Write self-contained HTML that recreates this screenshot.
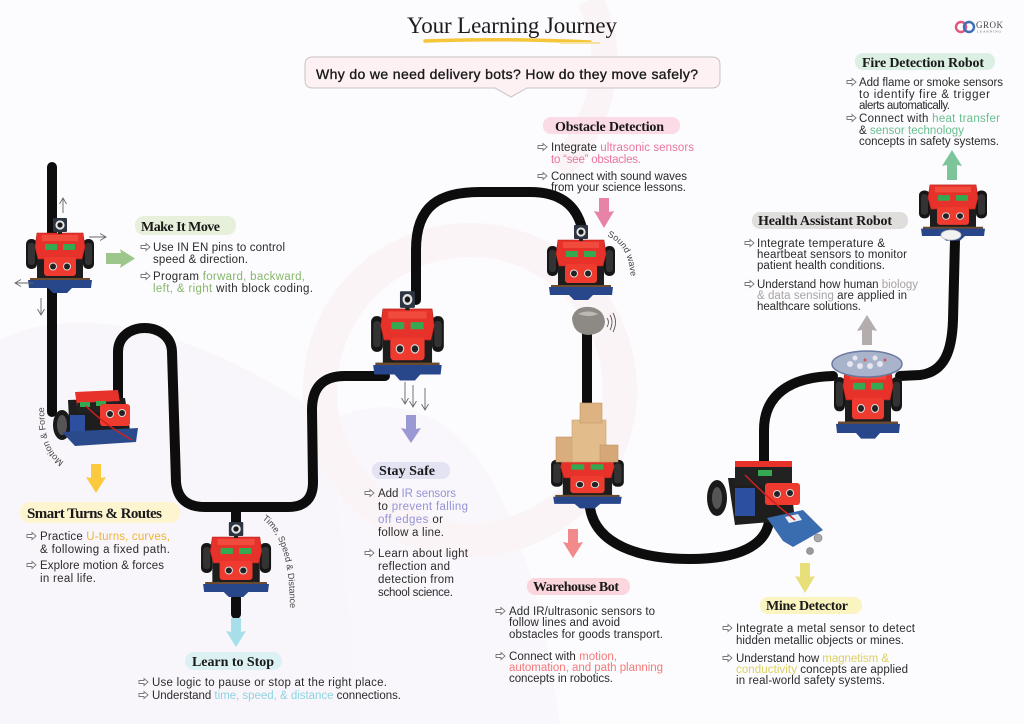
<!DOCTYPE html>
<html><head><meta charset="utf-8">
<style>
html,body{margin:0;padding:0;background:#fcfbfd;}
svg{display:block;}
.b{font-family:"Liberation Sans",sans-serif;font-size:11.5px;fill:#2b2b2b;}
.h{font-family:"Liberation Serif",serif;font-weight:bold;font-size:14px;fill:#1a1a1a;}
.c{font-family:"Liberation Sans",sans-serif;font-size:9px;fill:#444;}
</style></head>
<body>
<svg width="1024" height="724" viewBox="0 0 1024 724" xmlns="http://www.w3.org/2000/svg">
<defs>
 <marker id="ah" markerWidth="8" markerHeight="8" refX="6" refY="4" orient="auto" markerUnits="userSpaceOnUse">
  <path d="M0,0.5 L6,4 L0,7.5" fill="none" stroke="#666" stroke-width="0.9"/>
 </marker>
 <g id="ba"><path d="M0,-1.5 H5 V-3.5 L9,0 L5,3.5 V1.5 H0 Z" fill="#fff" stroke="#777" stroke-width="0.9"/></g>
 <g id="cam">
  <rect x="33" y="13" width="4" height="4" fill="#222"/>
  <rect x="28" y="1" width="14" height="14" rx="1" fill="#2d3542"/>
  <circle cx="35" cy="8" r="4.6" fill="#e6e6e6"/><circle cx="35" cy="8" r="2.6" fill="#1a1a1a"/>
 </g>
 <g id="bb">
  <rect x="1" y="22" width="11" height="30" rx="5" fill="#161616"/>
  <rect x="3" y="26" width="7" height="22" rx="3" fill="#333"/>
  <rect x="58" y="22" width="11" height="30" rx="5" fill="#161616"/>
  <rect x="60" y="26" width="7" height="22" rx="3" fill="#333"/>
  <rect x="12" y="36" width="46" height="28" fill="#1d1d1d"/>
  <path d="M12,16 H58 L60,30 L57,42 H13 L10,30 Z" fill="#e6322a" stroke="#b0201a" stroke-width="0.6"/>
  <rect x="17" y="18" width="36" height="6" fill="#f04b3c"/>
  <rect x="20" y="27" width="12" height="6" fill="#35a852"/>
  <rect x="38" y="27" width="12" height="6" fill="#35a852"/>
  <rect x="19" y="40" width="32" height="19" rx="3" fill="#ee3a2f"/>
  <circle cx="28" cy="49.5" r="4" fill="#ddd"/><circle cx="28" cy="49.5" r="3" fill="#222"/>
  <circle cx="42" cy="49.5" r="4" fill="#ddd"/><circle cx="42" cy="49.5" r="3" fill="#222"/>
  <rect x="5" y="61" width="60" height="3" fill="#6b4a2e"/>
  <path d="M3,63 H67 L66,71 H47 L42,76 H28 L23,71 H4 Z" fill="#27478a"/>
 </g>
</defs>

<!-- faint background -->
<rect width="1024" height="724" fill="#fcfbfd"/>
<path d="M0,340 C80,300 200,330 330,420 L360,724 L0,724 Z" fill="#f8f6fa"/>
<path d="M330,420 C420,380 520,420 560,724 L360,724 Z" fill="#f9f7fb"/>
<circle cx="470" cy="390" r="150" fill="none" stroke="#faf4f7" stroke-width="34"/>
<path d="M590,0 C620,60 600,120 560,170" fill="none" stroke="#fbf4f6" stroke-width="26"/>

<!-- title -->
<text x="407" y="33" font-family="Liberation Serif,serif" font-size="23" fill="#1a1a1a" textLength="210" lengthAdjust="spacing">Your Learning Journey</text>
<path d="M425,41 Q500,38 590,42" fill="none" stroke="#f5c63a" stroke-width="3.5" stroke-linecap="round"/>
<path d="M560,43 L600,43" stroke="#f7e3a0" stroke-width="2"/>

<!-- logo -->
<circle cx="961" cy="27" r="5" fill="none" stroke="#e0587f" stroke-width="2.4"/>
<circle cx="969" cy="27" r="5" fill="none" stroke="#3d6fb5" stroke-width="2.4"/>
<text x="976" y="28" font-family="Liberation Serif,serif" font-size="9" fill="#444" textLength="27" lengthAdjust="spacing">GROK</text>
<text x="977" y="32.5" font-family="Liberation Serif,serif" font-size="3.5" fill="#666" textLength="24" lengthAdjust="spacing">LEARNING</text>

<!-- question bubble -->
<path d="M313,57 H712 Q720,57 720,65 V80 Q720,88 712,88 H527 L511,97 L495,88 H313 Q305,88 305,80 V65 Q305,57 313,57 Z" fill="#fdf1f3" stroke="#c9c3c6" stroke-width="1"/>
<text x="316" y="79" font-family="Liberation Sans,sans-serif" font-size="14" fill="#1a1a1a" stroke="#1a1a1a" stroke-width="0.35" textLength="382" lengthAdjust="spacing">Why do we need delivery bots? How do they move safely?</text>

<!-- track -->
<g fill="none" stroke="#0d0d0d" stroke-width="10" stroke-linecap="round" stroke-linejoin="round">
 <path d="M52,167 L52,412"/>
 <path d="M118,402 L118,352 C118,320 171,320 172,352 L176,482 Q178,507 205,507 L288,507 Q313,507 313,482 L312,410 Q312,376 345,376 L385,376"/>
 <path d="M236,507 L236,524"/>
 <path d="M236,598 L236,614"/>
 <path d="M416,300 L416,250 C416,205 440,192 480,192 L530,192 C560,192 576,205 582,228"/>
 <path d="M587,330 L587,408"/>
 <path d="M590,508 C596,545 640,559 690,559 C740,559 765,545 769,522"/>
 <path d="M764,462 L764,430 C764,395 790,377 833,376"/>
 <path d="M900,376 L920,375 C945,372 952,350 953,320 L955,240"/>
</g>

<!-- R1 -->
<g transform="translate(25,217)"><use href="#bb"/><use href="#cam"/></g>
<g stroke="#666" stroke-width="0.9" marker-end="url(#ah)">
 <line x1="63" y1="213" x2="63" y2="198"/>
 <line x1="89" y1="237" x2="106" y2="237"/>
 <line x1="33" y1="283" x2="15" y2="283"/>
 <line x1="41" y1="298" x2="41" y2="315"/>
</g>

<!-- R2 angled -->
<g>
 <ellipse cx="62" cy="425" rx="9" ry="15" fill="#1a1a1a"/>
 <ellipse cx="62" cy="425" rx="5" ry="10" fill="#555"/>
 <polygon points="68,400 125,398 130,430 70,438" fill="#1e1e1e"/>
 <rect x="70" y="415" width="15" height="20" fill="#2c4fa0"/>
 <polygon points="75,392 118,390 120,403 77,406" fill="#e6322a"/>
 <polygon points="77,403 120,401 121,411 78,413" fill="#222"/>
 <rect x="80" y="402" width="10" height="5" fill="#35a852"/>
 <rect x="96" y="401" width="10" height="5" fill="#35a852"/>
 <rect x="100" y="404" width="30" height="22" rx="3" fill="#ee3a2f"/>
 <circle cx="110" cy="414" r="4" fill="#ddd"/><circle cx="110" cy="414" r="3" fill="#222"/>
 <circle cx="122" cy="413" r="4" fill="#ddd"/><circle cx="122" cy="413" r="3" fill="#222"/>
 <polygon points="62,432 138,428 136,442 75,446" fill="#2b4a8c"/>
 <path d="M86,406 Q105,425 132,440" fill="none" stroke="#d02020" stroke-width="1.5"/>
</g>
<path id="mf" d="M64,462 C50,452 44,440 44,402" fill="none"/>
<text class="c"><textPath href="#mf">Motion &amp; Force</textPath></text>

<!-- R3 -->
<g transform="translate(200,521) scale(1.03,1)"><use href="#bb"/><use href="#cam"/></g>
<path id="tsd" d="M262,519 C281,533 290,560 290,614" fill="none"/>
<text class="c"><textPath href="#tsd">Time, Speed &amp; Distance</textPath></text>

<!-- R4 -->
<g transform="translate(370,290) scale(1.07,1.19)"><use href="#bb"/><use href="#cam"/></g>
<g stroke="#666" stroke-width="0.9" marker-end="url(#ah)">
 <line x1="405" y1="382" x2="405" y2="404"/>
 <line x1="413" y1="385" x2="413" y2="407"/>
 <line x1="425" y1="388" x2="425" y2="410"/>
</g>

<!-- R5 obstacle -->
<g transform="translate(546,224)"><use href="#bb"/><use href="#cam"/></g>
<path d="M572,318 Q575,306 590,307 Q604,309 605,322 Q604,334 588,335 Q573,334 572,318 Z" fill="#8d8a85"/>
<path d="M578,314 Q588,309 598,314 Q590,318 578,314 Z" fill="#bcb8b2"/>
<g fill="none" stroke="#555" stroke-width="0.9">
 <path d="M607,318 Q610,322 607,327"/><path d="M610,315 Q614,322 610,330"/><path d="M613,313 Q618,322 613,332"/>
</g>
<path id="sw" d="M607,236 C620,242 630,252 631,282" fill="none"/>
<text class="c"><textPath href="#sw">Sound wave</textPath></text>

<!-- R6 warehouse -->
<g transform="translate(550,440) scale(1.07,0.9)"><use href="#bb"/></g>
<rect x="556" y="437" width="20" height="25" fill="#d9ad7c" stroke="#c39563" stroke-width="0.6"/>
<rect x="572" y="420" width="34" height="42" fill="#e3bc8c" stroke="#c9a070" stroke-width="0.6"/>
<rect x="580" y="403" width="22" height="20" fill="#dcb381" stroke="#c39563" stroke-width="0.6"/>
<rect x="600" y="445" width="18" height="17" fill="#d6a877" stroke="#c39563" stroke-width="0.6"/>

<!-- R7 mine -->
<g>
 <ellipse cx="717" cy="498" rx="10" ry="18" fill="#1a1a1a"/>
 <ellipse cx="717" cy="498" rx="5" ry="11" fill="#555"/>
 <polygon points="728,478 790,478 795,520 735,525" fill="#1e1e1e"/>
 <rect x="735" y="488" width="20" height="28" fill="#2c4fa0"/>
 <rect x="735" y="465" width="57" height="20" fill="#222"/>
 <rect x="735" y="461" width="57" height="6" fill="#e6322a"/>
 <rect x="758" y="470" width="14" height="6" fill="#35a852"/>
 <rect x="765" y="483" width="35" height="22" rx="3" fill="#ee3a2f"/>
 <circle cx="777" cy="494" r="4" fill="#ddd"/><circle cx="777" cy="494" r="3" fill="#222"/>
 <circle cx="790" cy="493" r="4" fill="#ddd"/><circle cx="790" cy="493" r="3" fill="#222"/>
 <polygon points="767,518 803,510 823,530 793,547 783,541" fill="#3a6db0"/>
 <polygon points="785,517 798,514 802,520 789,523" fill="#e8eef6"/>
 <path d="M745,475 Q770,500 795,520" fill="none" stroke="#d02020" stroke-width="1.5"/>
 <circle cx="818" cy="538" r="4" fill="#aaa" stroke="#777" stroke-width="0.6"/>
 <circle cx="810" cy="551" r="3.5" fill="#999" stroke="#777" stroke-width="0.6"/>
</g>

<!-- R8 health -->
<g transform="translate(833,352) scale(1,1.14)"><use href="#bb"/></g>
<ellipse cx="867" cy="364" rx="35" ry="13" fill="#a9b4cc" stroke="#6a7aa0" stroke-width="1.5"/>
<g fill="#e6e6ee"><circle cx="850" cy="364" r="3"/><circle cx="860" cy="366" r="3"/><circle cx="870" cy="366" r="3"/><circle cx="880" cy="364" r="3"/><circle cx="855" cy="358" r="2.5"/><circle cx="875" cy="358" r="2.5"/></g>
<g fill="#d45555"><circle cx="865" cy="360" r="1.5"/><circle cx="885" cy="360" r="1.5"/></g>

<!-- R9 fire -->
<g transform="translate(918,170) scale(1,0.93)"><use href="#bb"/></g>
<ellipse cx="951" cy="235" rx="10" ry="5" fill="#f2f2f2" stroke="#bbb" stroke-width="0.8"/>

<!-- block arrows -->
<polygon points="106,253 121,253 120,249 135,258.5 120,268 121,264 106,264" fill="#9dc78a"/>
<polygon points="91,464 101,464 101,478 106,477 96,493 86,477 91,478" fill="#fbc93c"/>
<polygon points="231,618 241,618 241,632 246,631 236,647 226,631 231,632" fill="#a6dfea"/>
<polygon points="406,415 416,415 416,429 421,428 411,443 401,428 406,429" fill="#9b99d3"/>
<polygon points="599,198 609,198 609,212 614,211 604,228 594,211 599,212" fill="#e683a7"/>
<polygon points="568,529 578,529 578,543 583,542 573,558 563,542 568,543" fill="#f28a8c"/>
<polygon points="800,563 810,563 810,577 815,576 805,593 795,576 800,577" fill="#e6df7a"/>
<polygon points="867,315 877,331 872,330 872,345 862,345 862,330 857,331" fill="#b4adad"/>
<polygon points="952,150 962,166 957,165 957,180 947,180 947,165 942,166" fill="#7cc59b"/>

<!-- pills -->
<rect x="135" y="216" width="101" height="19" rx="9" fill="#e7f0da"/>
<rect x="20" y="502" width="160" height="21" rx="10" fill="#fdf5d0"/>
<rect x="185" y="652" width="97" height="18" rx="9" fill="#dcf1f4"/>
<rect x="372" y="462" width="78" height="17" rx="8" fill="#e3e3f3"/>
<rect x="543" y="117" width="137" height="17" rx="8" fill="#fadbe6"/>
<rect x="527" y="578" width="103" height="17" rx="8" fill="#fbd6dc"/>
<rect x="760" y="597" width="102" height="17" rx="8" fill="#faf4c0"/>
<rect x="752" y="212" width="156" height="17" rx="8" fill="#e0dddd"/>
<rect x="855" y="53" width="140" height="17" rx="8" fill="#dcefe3"/>

<!-- headings -->
<text class="h" x="141" y="231" textLength="79" lengthAdjust="spacing">Make It Move</text>
<text class="h" x="27" y="518" style="font-size:15px" textLength="135" lengthAdjust="spacing">Smart Turns &amp; Routes</text>
<text class="h" x="192" y="666" textLength="82" lengthAdjust="spacing">Learn to Stop</text>
<text class="h" x="379" y="475" textLength="56" lengthAdjust="spacing">Stay Safe</text>
<text class="h" x="555" y="131" textLength="109" lengthAdjust="spacing">Obstacle Detection</text>
<text class="h" x="533" y="591" textLength="86" lengthAdjust="spacing">Warehouse Bot</text>
<text class="h" x="766" y="610" textLength="82" lengthAdjust="spacing">Mine Detector</text>
<text class="h" x="758" y="225" textLength="134" lengthAdjust="spacing">Health Assistant Robot</text>
<text class="h" x="862" y="67" textLength="122" lengthAdjust="spacing">Fire Detection Robot</text>

<!-- bullets -->
<use href="#ba" x="141" y="247"/><use href="#ba" x="141" y="276"/>
<use href="#ba" x="27" y="536"/><use href="#ba" x="27" y="565"/>
<use href="#ba" x="139" y="682"/><use href="#ba" x="139" y="695"/>
<use href="#ba" x="365" y="493"/><use href="#ba" x="365" y="553"/>
<use href="#ba" x="538" y="147"/><use href="#ba" x="538" y="176"/>
<use href="#ba" x="496" y="611"/><use href="#ba" x="496" y="656"/>
<use href="#ba" x="723" y="628"/><use href="#ba" x="723" y="658"/>
<use href="#ba" x="745" y="243"/><use href="#ba" x="745" y="284"/>
<use href="#ba" x="847" y="82"/><use href="#ba" x="847" y="118"/>

<!-- Make It Move -->
<text class="b" x="153" y="251" textLength="132" lengthAdjust="spacing">Use IN EN pins to control</text>
<text class="b" x="153" y="263" textLength="95" lengthAdjust="spacing">speed &amp; direction.</text>
<text class="b" x="153" y="280" textLength="152" lengthAdjust="spacing">Program <tspan fill="#86b86b">forward, backward,</tspan></text>
<text class="b" x="153" y="292" textLength="160" lengthAdjust="spacing"><tspan fill="#86b86b">left, &amp; right</tspan> with block coding.</text>

<!-- Smart Turns -->
<text class="b" x="40" y="540" textLength="130" lengthAdjust="spacing">Practice <tspan fill="#f2b233">U-turns, curves,</tspan></text>
<text class="b" x="40" y="553" textLength="130" lengthAdjust="spacing">&amp; following a fixed path.</text>
<text class="b" x="40" y="569" textLength="124" lengthAdjust="spacing">Explore motion &amp; forces</text>
<text class="b" x="40" y="582" textLength="56" lengthAdjust="spacing">in real life.</text>

<!-- Learn to Stop -->
<text class="b" x="152" y="686" textLength="235" lengthAdjust="spacing">Use logic to pause or stop at the right place.</text>
<text class="b" x="152" y="699" textLength="249" lengthAdjust="spacing">Understand <tspan fill="#8fd3e0">time, speed, &amp; distance</tspan> connections.</text>

<!-- Stay Safe -->
<text class="b" x="378" y="497" textLength="78" lengthAdjust="spacing">Add <tspan fill="#9593d6">IR sensors</tspan></text>
<text class="b" x="378" y="510" textLength="90" lengthAdjust="spacing">to <tspan fill="#9593d6">prevent falling</tspan></text>
<text class="b" x="378" y="523" textLength="65" lengthAdjust="spacing"><tspan fill="#9593d6">off edges</tspan> or</text>
<text class="b" x="378" y="536" textLength="66" lengthAdjust="spacing">follow a line.</text>
<text class="b" x="378" y="557" textLength="90" lengthAdjust="spacing">Learn about light</text>
<text class="b" x="378" y="570" textLength="72" lengthAdjust="spacing">reflection and</text>
<text class="b" x="378" y="583" textLength="76" lengthAdjust="spacing">detection from</text>
<text class="b" x="378" y="596" textLength="75" lengthAdjust="spacing">school science.</text>

<!-- Obstacle -->
<text class="b" x="551" y="151" textLength="143" lengthAdjust="spacing">Integrate <tspan fill="#e9769f">ultrasonic sensors</tspan></text>
<text class="b" x="551" y="163" textLength="90" lengthAdjust="spacing" style="fill:#e9769f">to “see” obstacles.</text>
<text class="b" x="551" y="180" textLength="136" lengthAdjust="spacing">Connect with sound waves</text>
<text class="b" x="551" y="191" textLength="135" lengthAdjust="spacing">from your science lessons.</text>

<!-- Warehouse -->
<text class="b" x="509" y="615" textLength="146" lengthAdjust="spacing">Add IR/ultrasonic sensors to</text>
<text class="b" x="509" y="626" textLength="111" lengthAdjust="spacing">follow lines and avoid</text>
<text class="b" x="509" y="638" textLength="154" lengthAdjust="spacing">obstacles for goods transport.</text>
<text class="b" x="509" y="660" textLength="108" lengthAdjust="spacing">Connect with <tspan fill="#f47a7a">motion,</tspan></text>
<text class="b" x="509" y="671" textLength="154" lengthAdjust="spacing" style="fill:#f47a7a">automation, and path planning</text>
<text class="b" x="509" y="682" textLength="104" lengthAdjust="spacing">concepts in robotics.</text>

<!-- Mine -->
<text class="b" x="736" y="632" textLength="179" lengthAdjust="spacing">Integrate a metal sensor to detect</text>
<text class="b" x="736" y="644" textLength="168" lengthAdjust="spacing">hidden metallic objects or mines.</text>
<text class="b" x="736" y="662" textLength="153" lengthAdjust="spacing">Understand how <tspan fill="#dcd060">magnetism &amp;</tspan></text>
<text class="b" x="736" y="673" textLength="172" lengthAdjust="spacing"><tspan fill="#dcd060">conductivity</tspan> concepts are applied</text>
<text class="b" x="736" y="684" textLength="149" lengthAdjust="spacing">in real-world safety systems.</text>

<!-- Health -->
<text class="b" x="757" y="247" textLength="128" lengthAdjust="spacing">Integrate temperature &amp;</text>
<text class="b" x="757" y="258" textLength="150" lengthAdjust="spacing">heartbeat sensors to monitor</text>
<text class="b" x="757" y="269" textLength="128" lengthAdjust="spacing">patient health conditions.</text>
<text class="b" x="757" y="288" textLength="161" lengthAdjust="spacing">Understand how human <tspan fill="#a9a3a3">biology</tspan></text>
<text class="b" x="757" y="299" textLength="150" lengthAdjust="spacing"><tspan fill="#a9a3a3">&amp; data sensing</tspan> are applied in</text>
<text class="b" x="757" y="310" textLength="104" lengthAdjust="spacing">healthcare solutions.</text>

<!-- Fire -->
<text class="b" x="859" y="86" textLength="144" lengthAdjust="spacing">Add flame or smoke sensors</text>
<text class="b" x="859" y="98" textLength="131" lengthAdjust="spacing">to identify fire &amp; trigger</text>
<text class="b" x="859" y="109" textLength="91" lengthAdjust="spacing">alerts automatically.</text>
<text class="b" x="859" y="122" textLength="141" lengthAdjust="spacing">Connect with <tspan fill="#66bf8e">heat transfer</tspan></text>
<text class="b" x="859" y="134" textLength="105" lengthAdjust="spacing">&amp; <tspan fill="#66bf8e">sensor technology</tspan></text>
<text class="b" x="859" y="145" textLength="140" lengthAdjust="spacing">concepts in safety systems.</text>
</svg>
</body></html>
